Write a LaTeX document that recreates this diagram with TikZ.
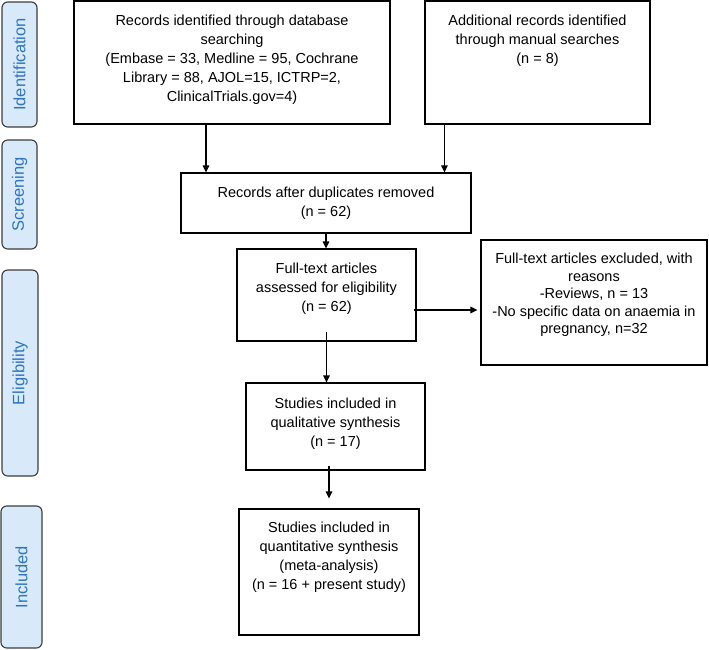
\documentclass[tikz,border=0pt]{standalone}
\usepackage{fontspec}
\setmainfont{Liberation Sans}
\usetikzlibrary{arrows.meta}
\definecolor{phasefill}{RGB}{216,234,250}
\definecolor{phasetext}{RGB}{46,117,190}
\definecolor{phaseline}{RGB}{60,60,60}
\newcommand{\gapbelow}[1]{\rule[-#1]{0pt}{#1}}
\begin{document}
\begin{tikzpicture}[
    x=1pt, y=-1pt,
    arrowstyle/.style={draw, line width=1.1pt, -{Triangle[length=7pt, width=6.5pt]}},
    record/.style={rectangle, draw, line width=1.1pt, align=center,
        font=\fontsize{14.5pt}{19pt}\selectfont},
    excluded/.style={record, font=\fontsize{14.5pt}{17.5pt}\selectfont},
    phase/.style={rectangle, draw=phaseline, fill=phasefill, line width=1.1pt,
        rounded corners=2mm, rotate=90, text=phasetext, inner sep=0pt,
        font=\fontsize{16.5pt}{19pt}\selectfont}
]
\useasboundingbox (0,0) rectangle (709,649);

\node (Phase01) [phase, minimum width=125pt, minimum height=35pt] at (19.5,64.5) {Identification};
\node (Phase02) [phase, minimum width=109pt, minimum height=35pt] at (19.5,194.5) {Screening};
\node (Phase03) [phase, minimum width=206pt, minimum height=36pt] at (20,373) {Eligibility};
\node (Phase04) [phase, minimum width=142pt, minimum height=41pt] at (21.5,577) {Included};

\node (Records01) [record, minimum width=316pt, minimum height=123pt] at (232,62.5)
  {Records identified through database\\ searching\\ (Embase = 33, Medline = 95, Cochrane\\
   Library = 88, AJOL=15, ICTRP=2,\\ ClinicalTrials.gov=4)\gapbelow{8pt}};
\node (Records02) [record, minimum width=225pt, minimum height=123pt] at (537.5,62.5)
  {Additional records identified\\ through manual searches\\ (n = 8)\gapbelow{46pt}};
\node (Records03) [record, minimum width=290pt, minimum height=60pt] at (326,203)
  {Records after duplicates removed\\ (n = 62)};
\node (Articles01) [record, minimum width=179pt, minimum height=92pt] at (326.5,295)
  {Full-text articles\\ assessed for eligibility\\ (n = 62)\gapbelow{16pt}};
\node (Articles02) [excluded, minimum width=226pt, minimum height=125pt] at (594,302.5)
  {Full-text articles excluded, with\\ reasons\\ -Reviews, n = 13\\
   -No specific data on anaemia in\\ pregnancy, n=32\gapbelow{18pt}};
\node (Studies01) [record, minimum width=179pt, minimum height=87pt] at (335.5,426.5)
  {Studies included in\\ qualitative synthesis\\ (n = 17)\gapbelow{9pt}};
\node (Studies02) [record, minimum width=180pt, minimum height=126pt] at (329,572)
  {Studies included in\\ quantitative synthesis\\ (meta-analysis)\\
   (n = 16 + present study)\gapbelow{32pt}};

\draw[arrowstyle] ([xshift=-26pt]Records01.south) -- ([xshift=-26pt]Records01.south |- Records03.north);
\draw[arrowstyle] ([xshift=20pt]Records02.south west) -- ([xshift=20pt]Records02.south west |- Records03.north);
\draw[arrowstyle] (Records03.south) -- (Records03.south |- Articles01.north);
\draw[arrowstyle] ([yshift=10pt]Articles01.south) -- (Articles01.south |- Studies01.north);
\draw[arrowstyle] ([yshift=5pt]Studies01.south -| Studies02.north) -- ([yshift=10pt]Studies02.north);
\draw[arrowstyle] ([shift={(-3pt,-15pt)}]Articles01.east) -- ([shift={(-3pt,-15pt)}]Articles01.east -| Articles02.west);

\end{tikzpicture}
\end{document}
